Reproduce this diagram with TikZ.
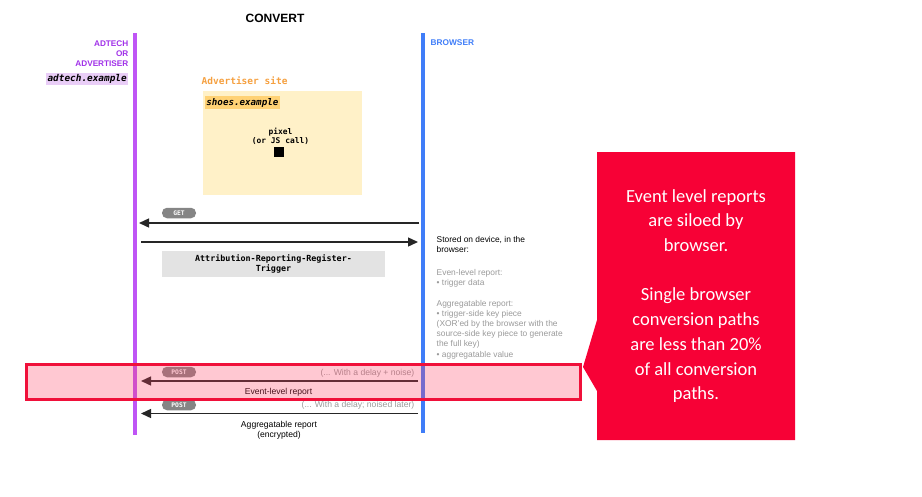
\documentclass[tikz,border=0pt]{standalone}
\usepackage{fontspec}
\usetikzlibrary{arrows.meta}
\setmainfont{Liberation Sans}
\setmonofont{DejaVu Sans Mono}
\newfontfamily\calfont{Carlito}
\definecolor{adpurple}{HTML}{A030E8}
\definecolor{adline}{HTML}{BF55F5}
\definecolor{adbg}{HTML}{E9CDF7}
\definecolor{brblue}{HTML}{3F7DF8}
\definecolor{siteorange}{HTML}{F5A040}
\definecolor{siteyellow}{HTML}{FFF1C8}
\definecolor{shoesbg}{HTML}{FFD275}
\definecolor{pillgray}{HTML}{858585}
\definecolor{boxgray}{HTML}{E3E3E3}
\definecolor{notegray}{HTML}{999999}
\definecolor{hlred}{HTML}{F0103A}
\definecolor{hloverlay}{HTML}{FF4164}
\definecolor{callred}{HTML}{F70136}
\begin{document}
\begin{tikzpicture}[x=1pt,y=-1pt,
  pill/.style={fill=pillgray,rounded corners=5pt,minimum width=34pt,minimum height=10.5pt,inner sep=0pt,text=white,font=\ttfamily\bfseries\fontsize{6.3}{7}\selectfont},
  msg/.style={draw=black!85,line width=1.4pt,-{Triangle[length=10pt,width=9pt]}},
  note/.style={anchor=north west,align=left,inner sep=0pt,font=\fontsize{8.4}{10.2}\selectfont},
  lbl/.style={inner sep=0pt,font=\fontsize{8.6}{10}\selectfont}]
\useasboundingbox (0,0) rectangle (922,496);
% title
\node[inner sep=0pt,font=\bfseries\fontsize{12}{14}\selectfont] (title) at (275,18) {CONVERT};
% lifelines
\coordinate (pt) at (135,33); \coordinate (pb) at (135,435);
\coordinate (bt) at (423,33); \coordinate (bb) at (423,433);
\draw[adline,line width=4pt] (pt) -- (pb);
\draw[brblue,line width=4pt] (bt) -- (bb);
% adtech labels
\node[anchor=north east,align=right,inner sep=0pt,text=adpurple,font=\bfseries\fontsize{8.2}{10}\selectfont] (adt) at (128.5,40.5) {ADTECH\\OR\\ADVERTISER};
\node[anchor=east,fill=adbg,inner sep=1.5pt,minimum height=12pt,font=\ttfamily\bfseries\itshape\fontsize{9.4}{10}\selectfont] (adex) at (128.5,79) {adtech.example};
\node[anchor=west,inner sep=0pt,text=brblue,font=\bfseries\fontsize{8.3}{9}\selectfont] (browser) at (430.5,42.5) {BROWSER};
% advertiser site
\node[anchor=west,inner sep=0pt,text=siteorange,font=\ttfamily\bfseries\fontsize{9.5}{10}\selectfont] (advsite) at (201.5,81) {Advertiser site};
\node[fill=siteyellow,anchor=north west,minimum width=159pt,minimum height=104pt,inner sep=0pt] (sitebox) at (203,91) {};
\node[anchor=north west,fill=shoesbg,inner sep=1.2pt,minimum height=13pt,font=\ttfamily\bfseries\itshape\fontsize{9.2}{10}\selectfont] (shoes) at (205,96) {shoes.example};
\node[align=center,inner sep=0pt,font=\ttfamily\bfseries\fontsize{7.9}{9.5}\selectfont] (pixel) at (280.5,136.5) {pixel\\(or JS call)};
\node[fill=black,minimum size=10.5pt,inner sep=0pt] (sq) at (279,152) {};
% GET
\node[pill] (get) at (179,213) {GET};
\coordinate (getR) at (419,223); \coordinate (getL) at (139,223);
\draw[msg] (getR) -- (getL);
\coordinate (trL) at (141,242); \coordinate (trR) at (418,242);
\draw[msg] (trL) -- (trR);
\node[fill=boxgray,minimum width=223pt,minimum height=26pt,inner sep=0pt,align=center,font=\ttfamily\bfseries\fontsize{8.4}{10}\selectfont] (arrt) at (273.5,264) {Attribution-Reporting-Register-\\Trigger};
% browser notes
\node[note] (stored) at (436.5,236.5) {Stored on device, in the\\browser:};
\node[note,text=notegray] (even) at (436.5,269.5) {Even-level report:\\• trigger data};
\node[note,text=notegray] (aggn) at (436.5,299.8) {Aggregatable report:\\• trigger-side key piece\\(XOR'ed by the browser with the\\source-side key piece to generate\\the full key)\\• aggregatable value};
% second POST
\node[pill] (post2) at (179,405) {POST};
\node[lbl,anchor=east,text=notegray] (delay2) at (414.5,405.5) {(... With a delay; noised later)};
\coordinate (a2R) at (418,413.5); \coordinate (a2L) at (141,413.5);
\draw[msg] (a2R) -- (a2L);
\node[lbl,align=center] (aggrep) at (279,430.5) {Aggregatable report\\(encrypted)};
% first POST
\node[pill] (post1) at (179,372) {POST};
\node[lbl,anchor=east,text=notegray] (delay1) at (414.5,373) {(... With a delay + noise)};
\coordinate (a1R) at (418,381); \coordinate (a1L) at (141,381);
\draw[msg] (a1R) -- (a1L);
\node[lbl] (evrep) at (278.5,392) {Event-level report};
% highlight
\node[draw=hlred,line width=3pt,fill=hloverlay,fill opacity=0.29,draw opacity=1,anchor=north west,minimum width=554pt,minimum height=35pt,inner sep=0pt] (hl) at (25,363) {};
% callout
\fill[callred] (597,152) -- (795,152) -- (795,440) -- (597,440) -- (597,391) -- (583,367) -- (597,320) -- cycle;
\node[align=center,inner sep=0pt,text=white,font=\calfont\fontsize{18.5}{24.7}\selectfont] (call) at (696,296) {Event level reports\\are siloed by\\browser.\\[24.7pt]Single browser\\conversion paths\\are less than 20\%\\of all conversion\\paths.};
\end{tikzpicture}
\end{document}
